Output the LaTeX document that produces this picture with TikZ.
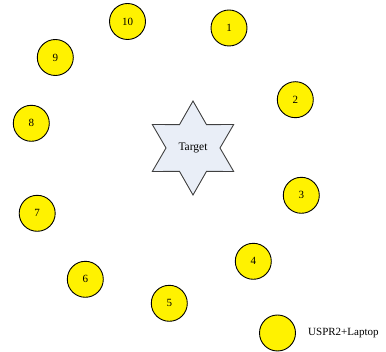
\documentclass[tikz,border=0pt]{standalone}
\usepackage{fontspec}
\setmainfont{Liberation Serif}
\begin{document}
\begin{tikzpicture}[x=1pt,y=-1pt,
  sensor/.style={circle,draw=black,line width=0.9pt,fill=yellow,minimum size=36pt,inner sep=0pt,font=\fontsize{11}{12}\selectfont},
  lbl/.style={font=\fontsize{11}{12}\selectfont,inner sep=0pt},
  starshape/.style={draw=black!75,line width=0.9pt,fill=starfill}]
\definecolor{starfill}{HTML}{E9EEF7}
\useasboundingbox (0,0) rectangle (386,352);
% star
\coordinate (c) at (193,148);
\filldraw[starshape] (c) ++(90:47) -- ++(0,0) -- ([shift={(60:27)}]c) -- ([shift={(30:47)}]c) -- ([shift={(0:27)}]c)
  -- ([shift={(-30:47)}]c) -- ([shift={(-60:27)}]c) -- ([shift={(-90:47)}]c) -- ([shift={(-120:27)}]c)
  -- ([shift={(-150:47)}]c) -- ([shift={(180:27)}]c) -- ([shift={(150:47)}]c) -- ([shift={(120:27)}]c) -- cycle;
\node[lbl,font=\fontsize{11.5}{12}\selectfont] (target) at (193,148) {Target};
\node[sensor] (n1) at (229,28) {1};
\node[sensor] (n2) at (295.3,99.7) {2};
\node[sensor] (n3) at (301.3,195.3) {3};
\node[sensor] (n4) at (253.3,261.3) {4};
\node[sensor] (n5) at (169.3,303.3) {5};
\node[sensor] (n6) at (85.3,279.3) {6};
\node[sensor] (n7) at (37.2,213.3) {7};
\node[sensor] (n8) at (31.3,123.3) {8};
\node[sensor] (n9) at (55.3,57.5) {9};
\node[sensor] (n10) at (127.5,21.5) {10};
\node[sensor] (usp) at (277.5,333) {};
\node[lbl,anchor=west] (usptext) at (308,333) {USPR2+Laptop};
\end{tikzpicture}
\end{document}
